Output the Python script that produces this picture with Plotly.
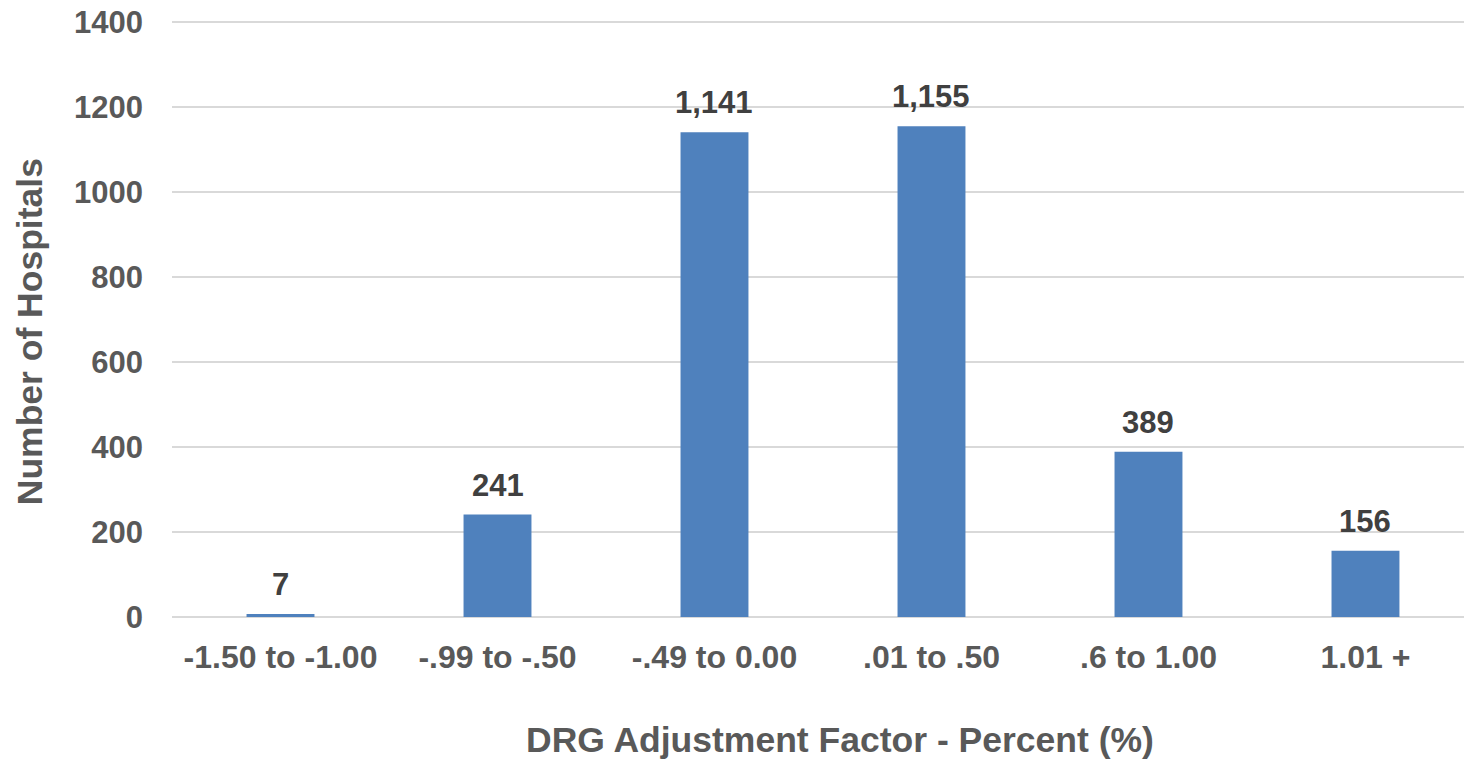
import plotly.graph_objects as go

categories = ["-1.50 to -1.00", "-.99 to -.50", "-.49 to 0.00", ".01 to .50", ".6 to 1.00", "1.01 +"]
hospitals = [7, 241, 1141, 1155, 389, 156]
y_ticks = [0, 200, 400, 600, 800, 1000, 1200, 1400]
x_title = "DRG Adjustment Factor - Percent (%)"
y_title = "Number of Hospitals"

FONT = "Liberation Sans, Arial, sans-serif"
TICK_COLOR = "#595959"
LABEL_COLOR = "#404040"
BAR_COLOR = "#4F81BD"

fig = go.Figure()
fig.add_trace(go.Bar(
    x=categories, y=hospitals, marker=dict(color=BAR_COLOR, line=dict(width=0)),
    hoverinfo="x+y", showlegend=False,
))

for c, v in zip(categories, hospitals):
    fig.add_annotation(
        x=c, y=v, text=f"<b>{v:,}</b>", showarrow=False, yanchor="bottom",
        yshift=10, font=dict(family=FONT, size=31, color=LABEL_COLOR),
    )

# axis titles as annotations (positioned like the reference)
fig.add_annotation(
    xref="paper", yref="paper", x=0.517, y=-0.206, xanchor="center", yanchor="middle",
    text=f"<b>{x_title}</b>", showarrow=False,
    font=dict(family=FONT, size=35.5, color=TICK_COLOR),
)
fig.add_annotation(
    xref="paper", yref="paper", x=-0.1099, y=0.477, xanchor="center", yanchor="middle",
    text=f"<b>{y_title}</b>", showarrow=False, textangle=-90,
    font=dict(family=FONT, size=35.5, color=TICK_COLOR),
)

fig.update_layout(
    width=1464, height=760,
    margin=dict(l=172, r=0, t=20, b=143),
    plot_bgcolor="white", paper_bgcolor="white",
    bargap=0.687,
    font=dict(family=FONT, color=TICK_COLOR),
    xaxis=dict(
        range=[-0.5, 5.454], showgrid=False, showline=False, zeroline=False,
        tickfont=dict(family=FONT, size=32, color=TICK_COLOR, weight="bold"),
        ticks="", ticklabelstandoff=18,
    ),
    yaxis=dict(
        range=[0, 1405], tickvals=y_ticks, showgrid=True, gridcolor="#D9D9D9", gridwidth=2,
        zeroline=True, zerolinecolor="#D9D9D9", zerolinewidth=2, showline=False,
        tickfont=dict(family=FONT, size=31, color=TICK_COLOR, weight="bold"),
        ticks="", ticklabelstandoff=28,
    ),
)

fig.write_html("out.html", post_script="document.body.style.margin='0';",
               config={"displayModeBar": False})
